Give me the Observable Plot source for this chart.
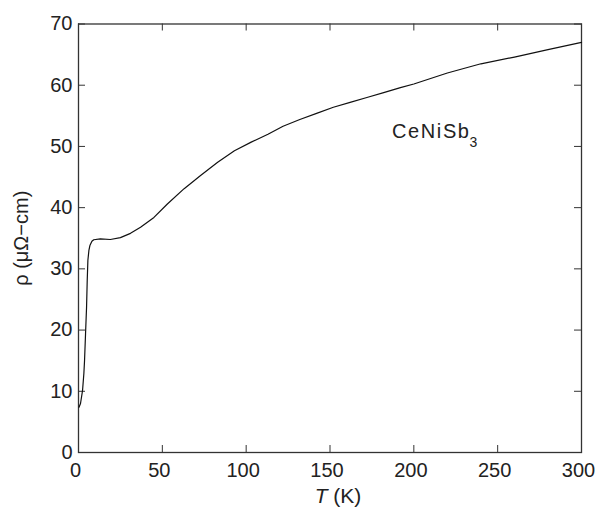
<!DOCTYPE html>
<html><head><meta charset="utf-8">
<script src="https://cdn.jsdelivr.net/npm/d3@7"></script>
<script src="https://cdn.jsdelivr.net/npm/@observablehq/plot@0.6"></script>
<style>html,body{margin:0;padding:0;background:#fff;}</style>
</head><body><div id="chart"></div>
<script>
// Temperature (K)
const temperature = [0.3, 1.2, 2.4, 3.2, 3.6, 4.2, 4.8, 5.2, 5.6, 6.2, 6.8, 8, 9.1, 13, 19, 25, 31, 37, 45, 53, 63, 73, 83, 93, 103, 113, 122, 132, 142, 152, 162, 172, 182, 192, 200, 220, 240, 260, 280, 300];
// Resistivity (µΩ-cm)
const resistivity = [7.4, 8.0, 10.1, 12.9, 15.0, 19.4, 23.7, 28.1, 31.4, 33.0, 33.8, 34.5, 34.75, 34.9, 34.8, 35.1, 35.8, 36.8, 38.4, 40.6, 43.1, 45.3, 47.4, 49.3, 50.7, 52.0, 53.3, 54.4, 55.4, 56.4, 57.2, 58.0, 58.8, 59.6, 60.2, 62.0, 63.5, 64.6, 65.8, 67.0];
const xTicks = [0, 50, 100, 150, 200, 250, 300];
const yTicks = [0, 10, 20, 30, 40, 50, 60, 70];
const sampleName = ["CeNiSb", "3"];
const sampleT = [187];
const sampleRho = [51.3];

const data = temperature.map((t, i) => ({T: t, rho: resistivity[i]}));
const annot = [{T: sampleT[0], rho: sampleRho[0], text: sampleName[0]}];

const W = 595, H = 507, ML = 78, MR = 14, MT = 23.5, MB = 55;
const plotW = W - ML - MR, plotH = H - MT - MB, tick = 7;
const ink = "#222";
const plot = Plot.plot({
  width: W, height: H,
  marginLeft: ML, marginRight: MR, marginTop: MT, marginBottom: MB,
  style: {fontFamily: "'Liberation Sans', Arial, sans-serif", fontSize: "20px", color: ink, background: "#fff"},
  x: {domain: [0, 300]},
  y: {domain: [0, 70]},
  marks: [
    Plot.axisX(xTicks, {anchor: "bottom", tickSize: 0, tickPadding: 10, dx: -3, label: null}),
    Plot.axisY(yTicks, {anchor: "left", tickSize: 0, tickPadding: 6, label: "ρ (μΩ−cm)", labelAnchor: "center", labelOffset: 65, labelArrow: "none"}),
    // inward ticks on all four sides
    Plot.tickX(xTicks, {x: d => d, insetTop: plotH - tick, stroke: "#333"}),
    Plot.tickX(xTicks, {x: d => d, insetBottom: plotH - tick, stroke: "#333"}),
    Plot.tickY(yTicks, {y: d => d, insetRight: plotW - tick, stroke: "#333"}),
    Plot.tickY(yTicks, {y: d => d, insetLeft: plotW - tick, stroke: "#333"}),
    Plot.frame({stroke: "#333", strokeWidth: 1.3}),
    Plot.line(data, {x: "T", y: "rho", stroke: "#111", strokeWidth: 1.2}),
    Plot.text(annot, {x: "T", y: "rho", text: "text", textAnchor: "start", lineAnchor: "bottom", fontSize: 20, fill: ink}),
    Plot.text(["T (K)"], {frameAnchor: "bottom", text: d => d, textAnchor: "middle", lineAnchor: "bottom", dy: 50.5, dx: 8, fontSize: 21, fill: ink})
  ]
});
document.getElementById("chart").appendChild(plot);

// styling touches: subscript in the sample label, italic T in the x label
d3.select(plot).selectAll("text").each(function () {
  const el = d3.select(this);
  const t = this.textContent;
  if (t === sampleName[0]) {
    el.attr("letter-spacing", "1.6px");
    el.append("tspan").attr("font-size", 14).attr("dy", 9).attr("dx", -1).text(sampleName[1]);
  } else if (t === "T (K)") {
    el.text(null);
    el.append("tspan").attr("font-style", "italic").text("T");
    el.append("tspan").text(" (K)");
  }
});
</script>
</body></html>
